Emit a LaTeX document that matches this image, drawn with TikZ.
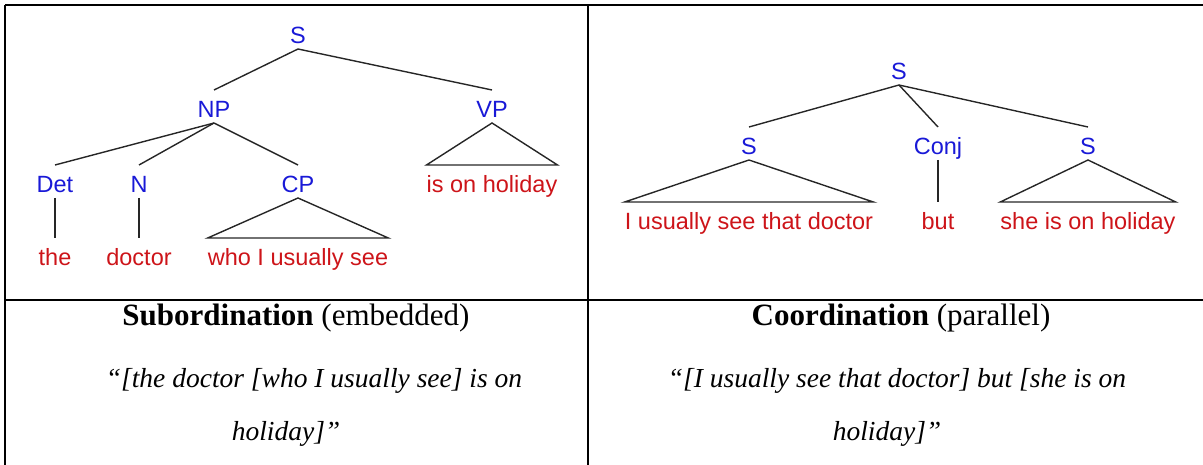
\documentclass[tikz,border=0pt]{standalone}
\usepackage{fontspec}
\setmainfont{Liberation Serif}
\newfontfamily\treefont{Liberation Sans}
\definecolor{catblue}{RGB}{25,25,215}
\definecolor{wordred}{RGB}{205,20,25}
\tikzset{
  lbl/.style={inner sep=0pt,outer ysep=5pt,text height=23pt,text depth=0pt,anchor=base,
    font=\treefont\fontsize{23.5}{24}\selectfont},
  cat/.style={lbl,text=catblue},
  word/.style={lbl,text=wordred},
  branch/.style={line width=1.4pt,draw=black!85},
  roof/.style={branch,line join=miter},
  rule/.style={line width=2pt},
  capt/.style={anchor=base,font=\fontsize{27.5}{28}\selectfont},
  head/.style={capt,font=\fontsize{31}{32}\selectfont}
}

\begin{document}
\begin{tikzpicture}[x=1pt,y=-1pt]
\useasboundingbox (0,0) rectangle (1203,465);

% table rules
\draw[rule] (5,5) -- (1203,5);
\draw[rule] (5,300) -- (1203,300);
\draw[rule] (5,5) -- (5,465);
\draw[rule] (588,5) -- (588,465);

% subordination tree
\node[cat] (s) at (298,44) {S};
\node[cat] (np) at (214,118) {NP};
\node[cat] (vp) at (492,118) {VP};
\node[cat] (det) at (55,193) {Det};
\node[cat] (n) at (139,193) {N};
\node[cat] (cp) at (298,193) {CP};
\node[word] (vpw) at (492,193) {is on holiday};
\node[word] (detw) at (55,266) {the};
\node[word] (nw) at (139,266) {doctor};
\node[word] (cpw) at (298,266) {who I usually see};

\draw[branch] (s.south) -- (np.north);
\draw[branch] (s.south) -- (vp.north);
\draw[branch] (np.south) -- (det.north);
\draw[branch] (np.south) -- (n.north);
\draw[branch] (np.south) -- (cp.north);
\draw[branch] (det.south) -- (detw.north);
\draw[branch] (n.south) -- (nw.north);
\draw[roof] (vp.south) -- (vpw.north west) -- (vpw.north east) -- cycle;
\draw[roof] (cp.south) -- (cpw.north west) -- (cpw.north east) -- cycle;

% coordination tree
\node[cat] (top) at (899,80) {S};
\node[cat] (sl) at (749,155) {S};
\node[cat] (conj) at (938,155) {Conj};
\node[cat] (sr) at (1088,155) {S};
\node[word] (slw) at (749,230) {I usually see that doctor};
\node[word] (conjw) at (938,230) {but};
\node[word] (srw) at (1088,230) {she is on holiday};

\draw[branch] (top.south) -- (sl.north);
\draw[branch] (top.south) -- (conj.north);
\draw[branch] (top.south) -- (sr.north);
\draw[branch] (conj.south) -- (conjw.north);
\draw[roof] (sl.south) -- (slw.north west) -- (slw.north east) -- cycle;
\draw[roof] (sr.south) -- (srw.north west) -- (srw.north east) -- cycle;

% captions
\node[head] (subhead) at (296,326) {\textbf{Subordination} (embedded)};
\node[capt] (subq) at (314,387) {\itshape “[the doctor [who I usually see] is on};
\node[capt] (subqend) at (286,440) {\itshape holiday]”};
\node[head] (cohead) at (901,326) {\textbf{Coordination} (parallel)};
\node[capt] (coq) at (897,387) {\itshape “[I usually see that doctor] but [she is on};
\node[capt] (coqend) at (887,440) {\itshape holiday]”};

\end{tikzpicture}
\end{document}
